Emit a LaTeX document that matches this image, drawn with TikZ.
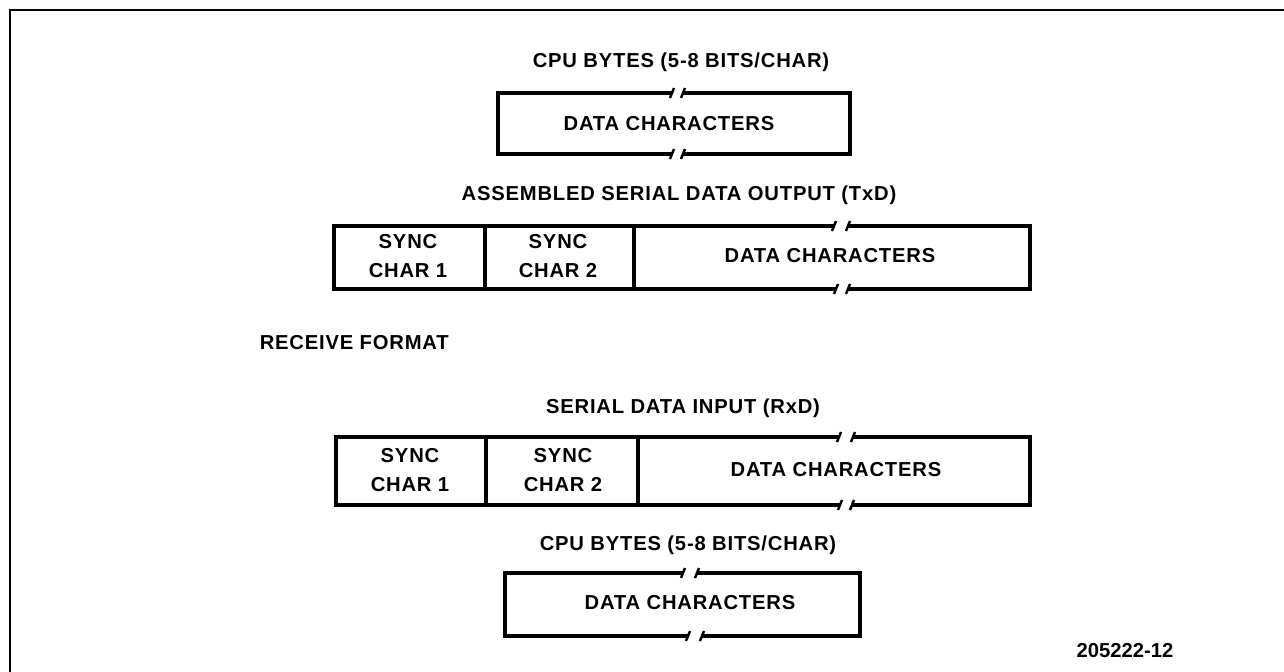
\documentclass[tikz,border=0pt]{standalone}
\usepackage{fontspec}
\setmainfont{Liberation Sans}
\newfontfamily\lblfont[LetterSpace=4]{Liberation Sans}
\usepackage{tikz}

% short slanted tick at a break in a line
\newcommand{\brk}[2]{\draw[line width=1.4pt] (#1-2,#2+5) -- (#1+2,#2-5);}

\begin{document}
\begin{tikzpicture}[x=0.02cm, y=-0.02cm, line width=2pt,
        lbl/.style = {font=\lblfont\bfseries\fontsize{11.5}{14}\selectfont, inner sep=0pt},
        cell/.style = {font=\lblfont\bfseries\fontsize{11.5}{17}\selectfont, inner sep=0pt, align=center}]
    \useasboundingbox (0,0) rectangle (1284,672);

    % frame
    \draw[line width=1.6pt] (1284,10) -- (10,10) -- (10,672);

    % transmit: cpu bytes
    \node[lbl] (tcpu) at (681,62) {CPU BYTES (5-8 BITS/CHAR)};
    \draw (672,93) -- (498,93) -- (498,154) -- (672,154);
    \draw (683,93) -- (850,93) -- (850,154) -- (683,154);
    \brk{672}{93} \brk{683}{93} \brk{672}{154} \brk{683}{154}
    \node[lbl] (tdata) at (669,124) {DATA CHARACTERS};

    % transmit: serial output
    \node[lbl] (ttxd) at (679,195) {ASSEMBLED SERIAL DATA OUTPUT (TxD)};
    \draw (834,226) -- (334,226) -- (334,289) -- (836,289);
    \draw (848,226) -- (1030,226) -- (1030,289) -- (848,289);
    \draw (485,226) -- (485,289);
    \draw (634,226) -- (634,289);
    \brk{834}{226} \brk{848}{226} \brk{836}{289} \brk{848}{289}
    \node[cell] (tsync1) at (408,256) {SYNC\\CHAR 1};
    \node[cell] (tsync2) at (558,256) {SYNC\\CHAR 2};
    \node[lbl] (tchars) at (830,256) {DATA CHARACTERS};

    % receive
    \node[lbl, anchor=west] (rfmt) at (258,343) {RECEIVE FORMAT};

    % receive: serial input
    \node[lbl] (rrxd) at (683,408) {SERIAL DATA INPUT (RxD)};
    \draw (839,437) -- (336,437) -- (336,505) -- (840,505);
    \draw (853,437) -- (1030,437) -- (1030,505) -- (852,505);
    \draw (486,437) -- (486,505);
    \draw (638,437) -- (638,505);
    \brk{839}{437} \brk{853}{437} \brk{840}{505} \brk{852}{505}
    \node[cell] (rsync1) at (410,470) {SYNC\\CHAR 1};
    \node[cell] (rsync2) at (563,470) {SYNC\\CHAR 2};
    \node[lbl] (rchars) at (836,470) {DATA CHARACTERS};

    % receive: cpu bytes
    \node[lbl] (rcpu) at (688,545) {CPU BYTES (5-8 BITS/CHAR)};
    \draw (683,573) -- (505,573) -- (505,636) -- (688,636);
    \draw (697,573) -- (860,573) -- (860,636) -- (702,636);
    \brk{683}{573} \brk{697}{573} \brk{688}{636} \brk{702}{636}
    \node[lbl] (rdata) at (690,603) {DATA CHARACTERS};

    \node[font=\bfseries\fontsize{11.5}{14}\selectfont, inner sep=0pt] (fig) at (1125,651) {205222-12};
\end{tikzpicture}
\end{document}
